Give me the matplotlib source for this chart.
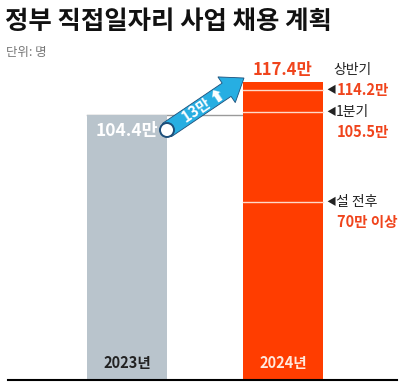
import numpy as np
import matplotlib
matplotlib.use("Agg")
import matplotlib.pyplot as plt
from matplotlib.patches import FancyArrow, Circle

plt.rcParams['font.family'] = ['Noto Sans CJK KR', 'DejaVu Sans']

# data (단위: 만 명)
years = ["2023년", "2024년"]
totals = [104.4, 117.4]
plan_values = [114.2, 105.5, 70]
plan_labels = ["상반기", "1분기", "설 전후"]
plan_texts = ["114.2만", "105.5만", "70만 이상"]
increase_label = "13만"

GRAY = "#b9c4cc"
RED = "#ff3d00"
RED_TXT = "#f0441c"
CYAN = "#27aee2"

fig = plt.figure(figsize=(4.0, 3.82), dpi=100)
ax = fig.add_axes([0, 0, 1, 1])
ax.set_xlim(0, 400)
ax.set_ylim(-0.8, 149.6)
ax.axis("off")

xpos = [127, 283]
bars = ax.bar(xpos, totals, width=80, color=[GRAY, RED], zorder=2)

# reference line at 2023 level
ax.plot([xpos[0] - 40, xpos[1] - 40], [totals[0], totals[0]], color="#9a9a9a", lw=1, zorder=1)
# baseline
ax.plot([8, 397], [0, 0], color="black", lw=1.5, zorder=3)

# white lines inside red bar
for v in plan_values:
    ax.plot([xpos[1] - 40, xpos[1] + 40], [v, v], color="#ffd9c8", lw=1, zorder=3)

# value labels
ax.text(xpos[0] - 31, totals[0] - 6.5, "104.4만", color="white", fontsize=12.5,
        fontweight="bold", ha="left", va="center", zorder=4)
ax.text(xpos[1], totals[1] + 4.5, "117.4만", color=RED_TXT, fontsize=12,
        fontweight="bold", ha="center", va="center", zorder=4)

# year labels
ax.text(xpos[0], 6.5, years[0], color="#222222", fontsize=10.5, fontweight="bold",
        ha="center", va="center", zorder=4)
ax.text(xpos[1], 6.5, years[1], color="#ffe8dc", fontsize=10.5, fontweight="bold",
        ha="center", va="center", zorder=4)

# right-side annotations
lx = 326
ax.text(lx + 7, plan_values[0] + 8, plan_labels[0], color="#222222", fontsize=10,
        ha="left", va="center")
ax.text(lx, plan_values[0], "◀", color="#222222", fontsize=7, ha="left", va="center")
ax.text(lx + 11, plan_values[0], plan_texts[0], color=RED_TXT, fontsize=10.5,
        fontweight="bold", ha="left", va="center")
for lab, txt, v in zip(plan_labels[1:], plan_texts[1:], plan_values[1:]):
    ax.text(lx, v, "◀", color="#222222", fontsize=7, ha="left", va="center")
    ax.text(lx + 10, v, lab, color="#222222", fontsize=10, ha="left", va="center")
    ax.text(lx + 11, v - 7.7, txt, color=RED_TXT, fontsize=10.5, fontweight="bold",
            ha="left", va="center")

# title
fig.text(0.012, 0.943, "정부 직접일자리 사업 채용 계획", fontsize=18.3, fontweight="black",
         color="#111111", ha="left", va="center")
fig.text(0.015, 0.862, "단위: 명", fontsize=9, color="#777777", ha="left", va="center")

# arrow overlay in pixel coordinates
ov = fig.add_axes([0, 0, 1, 1])
ov.set_xlim(0, 400)
ov.set_ylim(382, 0)
ov.axis("off")
x0, y0, x1, y1 = 167, 130, 244, 78
dx, dy = x1 - x0, y1 - y0
arr = FancyArrow(x0, y0, dx, dy, width=16, head_width=31, head_length=21,
                 length_includes_head=True, color=CYAN, ec="#1d4f7a", lw=0.6, zorder=5)
ov.add_patch(arr)
ov.add_patch(Circle((x0, y0), 7, fc="white", ec="#1d4f7a", lw=1.4, zorder=6))
ang = np.degrees(np.arctan2(-dy, dx))
ov.text(x0 + dx * 0.48, y0 + dy * 0.48, increase_label + " ⬆", color="white", fontsize=10.5,
        fontweight="bold", rotation=ang, rotation_mode="anchor", ha="center", va="center", zorder=7)

fig.savefig("out.png", dpi=100)
